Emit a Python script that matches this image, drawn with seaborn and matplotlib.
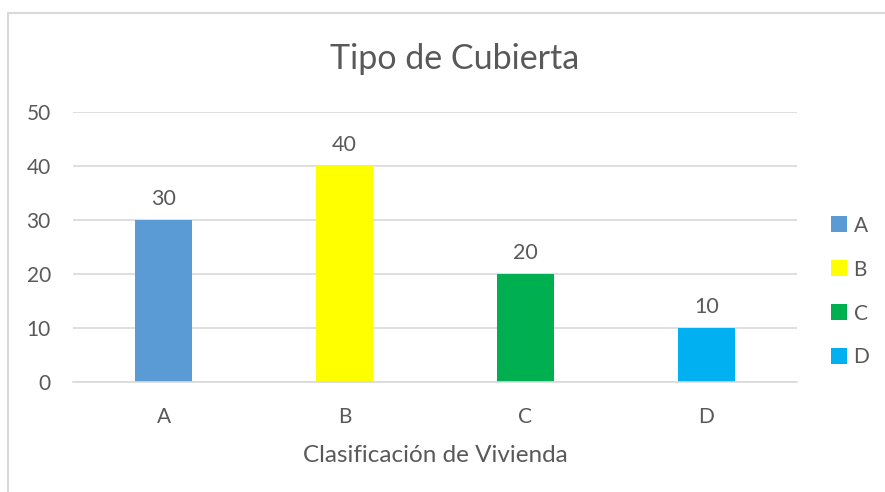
import pandas as pd
import seaborn as sns
import matplotlib.pyplot as plt
from matplotlib.patches import Rectangle

# chart data
categorias = ["A", "B", "C", "D"]
valores = [30, 40, 20, 10]
colores = ["#5B9BD5", "#FFFF00", "#00B050", "#00B0F0"]

data = pd.DataFrame({"clase": categorias, "valor": valores})

sns.set_theme(style="white")
plt.rcParams['font.family'] = ['Lato', 'DejaVu Sans']
txt = "#595959"

fig = plt.figure(figsize=(8.85, 4.92), dpi=100)
ax = fig.add_axes([0.0825, 0.2236, 0.818, 0.5488])

sns.barplot(data=data, x="clase", y="valor", hue="clase",
            palette=dict(zip(categorias, colores)), dodge=False,
            width=0.315, ax=ax, legend=True, saturation=1, linewidth=0)

# data labels above the bars
for c in ax.containers:
    ax.bar_label(c, padding=8, fontsize=15.5, color=txt)

ax.set_ylim(0, 50)
ax.set_yticks(range(0, 51, 10))
ax.set_xlim(-0.5, 3.5)
ax.yaxis.grid(True, color="#D9D9D9", linewidth=1.2)
ax.set_axisbelow(True)
for s in ["top", "right", "left"]:
    ax.spines[s].set_visible(False)
ax.spines["bottom"].set_color("#D9D9D9")
ax.spines["bottom"].set_linewidth(1.2)
ax.tick_params(axis="both", length=0, labelsize=15, labelcolor=txt)
ax.tick_params(axis="x", pad=18)
ax.tick_params(axis="y", pad=16)

ax.set_xlabel("Clasificación de Vivienda", fontsize=17.5, color=txt, labelpad=13)
ax.set_ylabel("")
fig.text(0.514, 0.88, "Tipo de Cubierta", fontsize=24.5, color=txt,
         ha="center", va="center")

# legend on the right
ax.legend(loc="center left", bbox_to_anchor=(1.035, 0.335), frameon=False,
          fontsize=15, labelcolor=txt, handlelength=0.8, handleheight=0.8,
          handletextpad=0.3, labelspacing=1.15, borderaxespad=0)

# chart frame
fig.patches.append(Rectangle((8 / 885, -0.1), 1.2, 1.1 - 13 / 492,
                             transform=fig.transFigure, fill=False,
                             edgecolor="#D9D9D9", linewidth=1.5))

fig.savefig("out.png", dpi=100, facecolor="white")
